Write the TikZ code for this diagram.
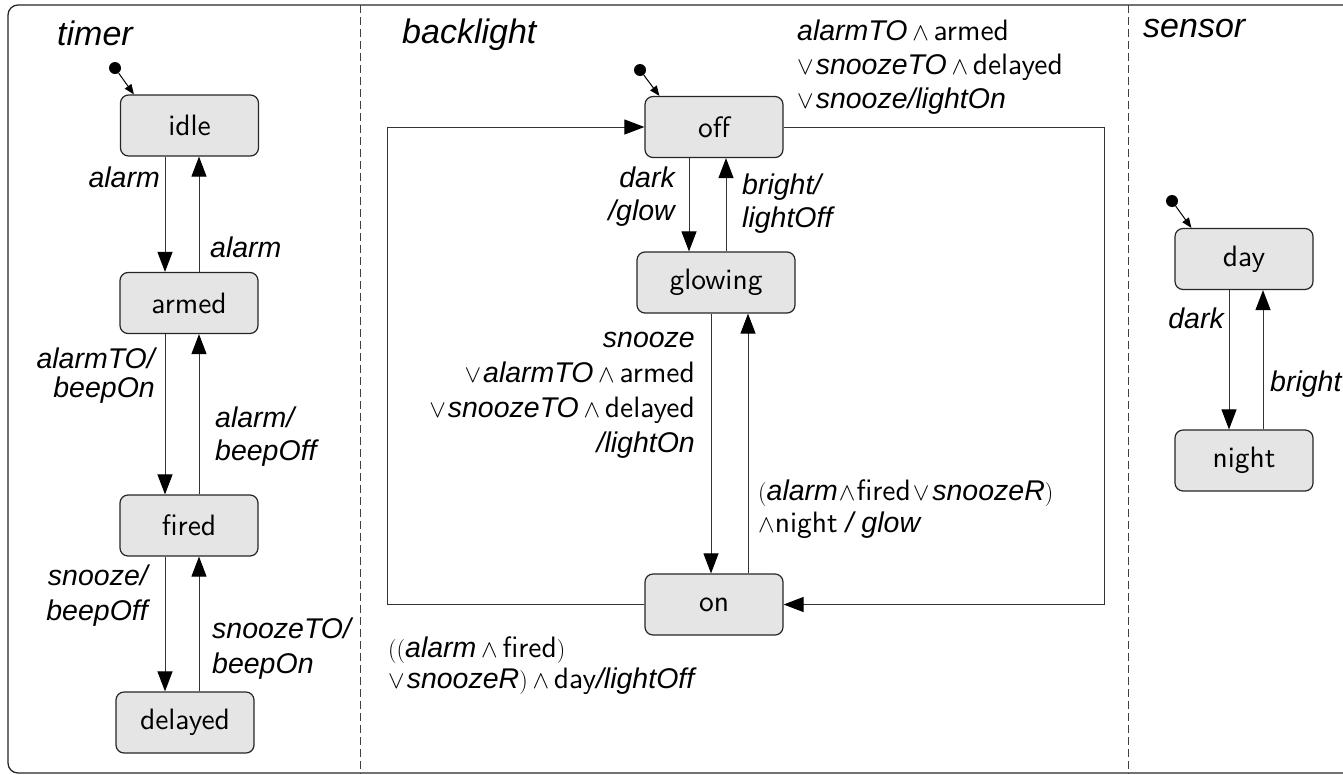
\documentclass[tikz,border=0pt]{standalone}
\usepackage{fontspec}
\usetikzlibrary{arrows.meta}

\newfontfamily\labfont{Liberation Sans}
\newfontfamily\stfont{lmsans10-regular.otf}
% state names set upright in the sans family, operators from the math font
\newcommand\st[1]{{\stfont\upshape\fontsize{29.5}{33}\selectfont #1}}
\newcommand\AND{{\upshape\fontsize{23}{33}\selectfont$\wedge$}}
\newcommand\ORX{{\upshape\fontsize{23}{33}\selectfont$\vee$}}
\newcommand\OR{\ORX\kern2pt}
\newcommand\lp{{\upshape\rmfamily\fontsize{24}{33}\selectfont(}}
\newcommand\rp{{\upshape\rmfamily\fontsize{24}{33}\selectfont)}}
% multi-line guards: first-line baseline is the node baseline
\newcommand\rtab[2][33]{{\fontsize{28.5}{#1}\selectfont\begin{tabular}[t]{@{}r@{}}#2\end{tabular}}}
\newcommand\ltab[2][33]{{\fontsize{28.5}{#1}\selectfont\begin{tabular}[t]{@{}l@{}}#2\end{tabular}}}

\tikzset{
  stbox/.style={draw=black!85, line width=1.2pt, fill=black!10, rounded corners=8pt,
    minimum width=138pt, minimum height=61pt, inner sep=0pt,
    font=\stfont\fontsize{29.5}{30}\selectfont},
  lab/.style={inner sep=0pt, font=\labfont\itshape\fontsize{28.5}{33}\selectfont},
  ttl/.style={inner sep=0pt, anchor=base west, font=\labfont\itshape\fontsize{34}{40}\selectfont},
  tr/.style={draw=black!80, line width=1pt, -{Triangle[length=20pt,width=15pt,color=black]}},
  ini/.style={draw=black, line width=1pt, -{Triangle[length=10pt,width=8pt]}},
  dot/.style={circle, fill=black, minimum size=12pt, inner sep=0pt},
  sep/.style={draw=black!75, line width=1pt, dash pattern=on 8pt off 4pt},
}

\begin{document}
\begin{tikzpicture}[x=1pt, y=-1pt]
\useasboundingbox (0,0) rectangle (1343,774);
\clip (0,0) rectangle (1343,774);

% outer frame and region separators
\draw[draw=black!85, line width=1.3pt, rounded corners=10pt] (8,5) rectangle (1380,773);
\draw[sep] (360,5) -- (360,774);
\draw[sep] (1128,5) -- (1128,774);

% region titles
\node[ttl] (ttimer) at (57,45) {timer};
\node[ttl] (tback) at (402,43) {backlight};
\node[ttl] (tsens) at (1143,37) {sensor};

% ---------------- timer ----------------
\node[stbox] (idle)    at (189.5,125.5) {idle};
\node[stbox] (armed)   at (189,303) {armed};
\node[stbox] (fired)   at (189,525.5) {fired};
\node[stbox] (delayed) at (185,722.5) {delayed};
\node[dot] (i1) at (115,68) {};
\draw[ini] (i1) -- ([xshift=14pt]idle.north west);

\coordinate (tdn) at (165,0);
\coordinate (tup) at (199,0);
\draw[tr] (tdn |- idle.south) -- (tdn |- armed.north);
\draw[tr] (tup |- armed.north) -- (tup |- idle.south);
\draw[tr] (tdn |- armed.south) -- (tdn |- fired.north);
\draw[tr] (tup |- fired.north) -- (tup |- armed.south);
\draw[tr] (tdn |- fired.south) -- (tdn |- delayed.north);
\draw[tr] (tup |- delayed.north) -- (tup |- fired.south);

\node[lab, anchor=base east] (t1) at (160,187) {alarm};
\node[lab, anchor=base west] (t2) at (210,257) {alarm};
\node[lab, anchor=base east] (t3) at (155,368) {\rtab[29]{alarmTO/\\beepOn}};
\node[lab, anchor=base west] (t4) at (215,427) {\ltab[33]{alarm/\\beepOff}};
\node[lab, anchor=base east] (t5) at (148,585) {\rtab[35]{snooze/\\beepOff}};
\node[lab, anchor=base west] (t6) at (212,638) {\ltab[35]{snoozeTO/\\beepOn}};

% ---------------- backlight ----------------
\node[stbox] (off)     at (714,127) {off};
\node[stbox, minimum width=158pt] (glowing) at (716,282.5) {glowing};
\node[stbox] (on)      at (714,604.5) {on};
\node[dot] (i2) at (640,70) {};
\draw[ini] (i2) -- ([xshift=15pt]off.north west);

\coordinate (bd1) at (689,0);
\coordinate (bu1) at (726,0);
\coordinate (bd2) at (711,0);
\coordinate (bu2) at (748,0);
\draw[tr] (bd1 |- off.south) -- (bd1 |- glowing.north);
\draw[tr] (bu1 |- glowing.north) -- (bu1 |- off.south);
\draw[tr] (bd2 |- glowing.south) -- (bd2 |- on.north);
\draw[tr] (bu2 |- on.north) -- (bu2 |- glowing.south);
\draw[tr] (on.west) -- (387,0 |- on.west) -- (387,0 |- off.west) -- (off.west);
\draw[tr] (off.east) -- (1104,0 |- off.east) -- (1104,0 |- on.east) -- (on.east);

\node[lab, anchor=base east] (b1) at (675,187) {\rtab[33]{dark\\/glow}};
\node[lab, anchor=base west] (b2) at (742,194) {\ltab[33]{bright/\\lightOff}};
\node[lab, anchor=base east] (b3) at (695,347) {\rtab[35]{snooze\\
  \OR alarmTO\,\AND\,\st{armed}\\
  \OR snoozeTO\,\AND\,\st{delayed}\\
  /lightOn}};
\node[lab, anchor=base west] (b4) at (758,500) {\ltab[32]{\lp alarm\kern1pt\AND\kern1pt\st{fired}\kern2pt\ORX\kern3pt snoozeR\rp\\
  \AND\st{night} / glow}};
\node[lab, anchor=base west] (b5) at (797,40) {\ltab[34]{alarmTO\,\AND\,\st{armed}\\
  \OR snoozeTO\,\AND\,\st{delayed}\\
  \OR snooze/lightOn}};
\node[lab, anchor=base west] (b6) at (388,657) {\ltab[31]{\lp\lp alarm\,\AND\,\st{fired}\rp\\
  \OR snoozeR\rp\,\AND\,\st{day}/lightOff}};

% ---------------- sensor ----------------
\node[stbox] (day)   at (1244,259) {day};
\node[stbox] (night) at (1244,460.5) {night};
\node[dot] (i3) at (1172,201) {};
\draw[ini] (i3) -- ([xshift=17pt]day.north west);

\coordinate (sd) at (1229,0);
\coordinate (su) at (1263,0);
\draw[tr] (sd |- day.south) -- (sd |- night.north);
\draw[tr] (su |- night.north) -- (su |- day.south);

\node[lab, anchor=base east] (s1) at (1224,328) {dark};
\node[lab, anchor=base west] (s2) at (1270,391) {bright};
\end{tikzpicture}
\end{document}
